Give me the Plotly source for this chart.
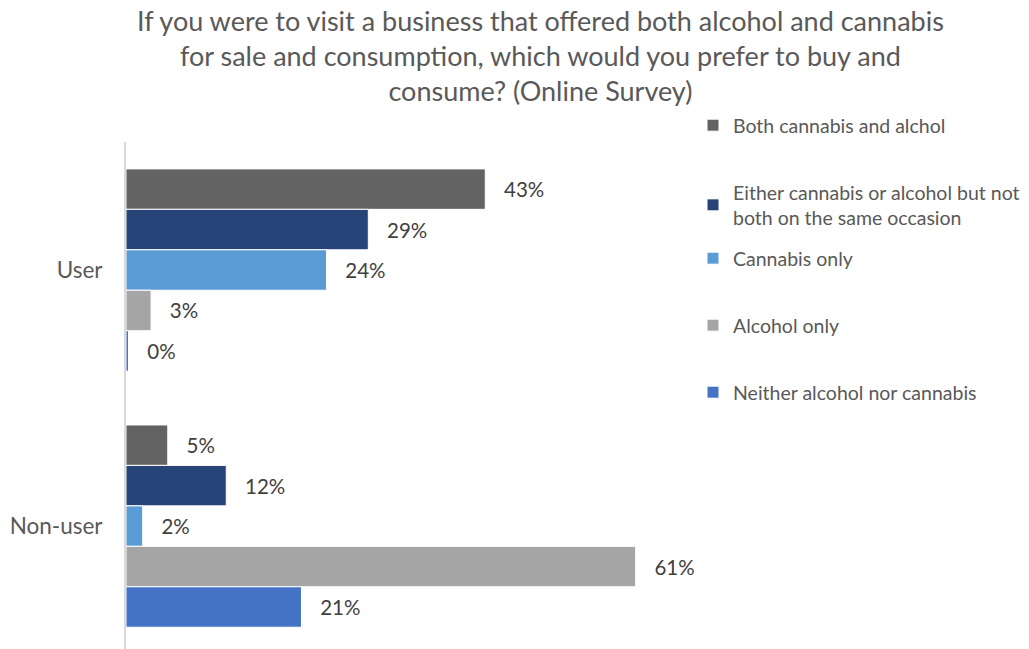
import plotly.graph_objects as go

# Survey responses by respondent group (percent)
groups = ["User", "Non-user"]
series_names = [
    "Both cannabis and alchol",
    "Either cannabis or alcohol but not<br>both on the same occasion",
    "Cannabis only",
    "Alcohol only",
    "Neither alcohol nor cannabis",
]
both_vals = [43, 5]
either_vals = [29, 12]
cannabis_only_vals = [24, 2]
alcohol_only_vals = [3, 61]
neither_vals = [0.3, 21]

series_values = [both_vals, either_vals, cannabis_only_vals, alcohol_only_vals, neither_vals]
colors = ["#636363", "#264478", "#5B9BD5", "#A5A5A5", "#4472C4"]

W, H = 1029, 649
M_TOP, M_LEFT, M_RIGHT = 142, 126, 329
PLOT_H = H - M_TOP
FONT = "Lato, 'Open Sans', sans-serif"

fig = go.Figure()
legend_ids = ["legend", "legend2", "legend3", "legend4", "legend5"]
for name, vals, col, lg in zip(series_names, series_values, colors, legend_ids):
    fig.add_trace(go.Bar(
        y=groups, x=vals, name=name, orientation="h",
        marker=dict(color=col, line=dict(color="white", width=1)),
        texttemplate="&nbsp;&nbsp;&nbsp;%{x:.0f}%",
        textposition="outside", cliponaxis=False,
        textfont=dict(family=FONT, size=20.5, color="#404040"),
        legend=lg,
    ))

# Legend entries stacked down the right side at even spacing
legend_tops = [106, 173, 239, 306, 373]
legend_layout = {}
for lg, top in zip(legend_ids, legend_tops):
    legend_layout[lg] = dict(
        xref="container", yref="container",
        x=693 / W, y=1 - top / H, xanchor="left", yanchor="top",
        font=dict(family=FONT, size=19.5, color="#595959"),
        bgcolor="rgba(0,0,0,0)", itemwidth=30,
        tracegroupgap=0,
    )

fig.add_annotation(
    text="If you were to visit a business that offered both alcohol and cannabis<br>"
         "for sale and consumption, which would you prefer to buy and<br>"
         "consume? (Online Survey)",
    xref="paper", yref="paper",
    x=(540 - M_LEFT) / (W - M_LEFT - M_RIGHT), y=1 + (M_TOP - 2) / PLOT_H,
    xanchor="center", yanchor="top", align="center", showarrow=False,
    font=dict(family=FONT, size=27, color="#595959"),
)

fig.update_layout(
    width=W, height=H,
    margin=dict(l=M_LEFT, r=M_RIGHT, t=M_TOP, b=0, autoexpand=False),
    paper_bgcolor="white", plot_bgcolor="white",
    barmode="group", bargap=0.21, bargroupgap=0,
    xaxis=dict(range=[0, 68.7], showgrid=False, showticklabels=False,
               zeroline=False, showline=False, ticks=""),
    yaxis=dict(type="category", range=[1.48, -0.5], showgrid=False,
               showline=True, linecolor="#D9D9D9", linewidth=2,
               ticks="", ticklabelstandoff=17,
               tickfont=dict(family=FONT, size=22.5, color="#595959")),
    showlegend=True,
    **legend_layout,
)

fig.write_html("out.html")
